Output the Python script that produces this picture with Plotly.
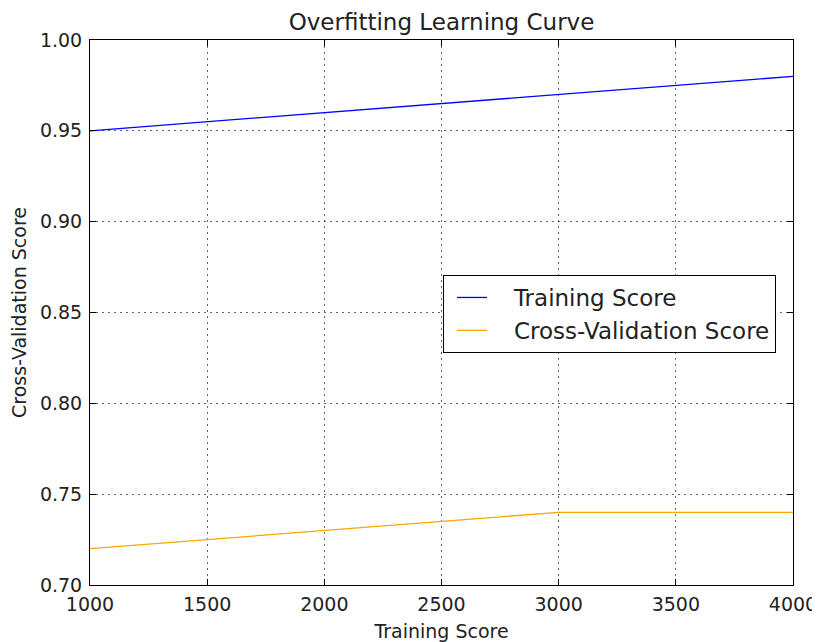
import plotly.graph_objects as go

train_sizes = [1000, 2000, 3000, 4000]
training_score = [0.95, 0.96, 0.97, 0.98]
cv_score = [0.72, 0.73, 0.74, 0.74]

x_ticks = [1000, 1500, 2000, 2500, 3000, 3500, 4000]
y_ticks = [0.70, 0.75, 0.80, 0.85, 0.90, 0.95, 1.00]

FONT = "DejaVu Sans"
# page body has an 8px margin, so the figure is sized to fit the 820x642 window
W, H = 812, 634
PAD = "\u00a0\u00a0\u00a0"

fig = go.Figure()
fig.add_trace(go.Scatter(x=train_sizes, y=training_score, mode="lines",
                         name=PAD + "Training Score", line=dict(color="#0000ff", width=1.3)))
fig.add_trace(go.Scatter(x=train_sizes, y=cv_score, mode="lines",
                         name=PAD + "Cross-Validation Score", line=dict(color="#ffa500", width=1.3)))

axis_common = dict(
    showline=True, linecolor="black", linewidth=1, mirror="ticks",
    ticks="inside", ticklen=6, tickcolor="black", tickwidth=1,
    showgrid=True, gridcolor="rgba(0,0,0,0.6)", griddash="1.5px,4.5px", gridwidth=1,
    zeroline=False, automargin=False,
    tickfont=dict(family=FONT, size=19, color="#222222"),
)

fig.update_layout(
    width=W, height=H,
    paper_bgcolor="white", plot_bgcolor="white",
    margin=dict(l=82, r=27, t=32, b=57),
    title=dict(text="Overfitting Learning Curve", x=(82 + 785) / 2 / W, xanchor="center",
               y=1 - 14 / H, yanchor="middle",
               font=dict(family=FONT, size=23, color="#222222")),
    xaxis=dict(range=[1000, 4000], tickvals=x_ticks,
               ticktext=[str(v) for v in x_ticks],
               title=dict(text="Training Score", font=dict(family=FONT, size=19, color="#222222"), standoff=10),
               ticklabelstandoff=2,
               **axis_common),
    yaxis=dict(range=[0.70, 1.00], tickvals=y_ticks,
               ticktext=[f"{v:.2f}" for v in y_ticks],
               title=dict(text="Cross-Validation Score", font=dict(family=FONT, size=19, color="#222222"), standoff=10),
               ticklabelstandoff=3,
               **axis_common),
    legend=dict(x=(443 - 90) / 703, y=(585 - 275) / 545, xanchor="left", yanchor="top",
                bordercolor="black", borderwidth=1, bgcolor="white",
                font=dict(family=FONT, size=23, color="#222222"),
                itemwidth=30, indentation=8, tracegroupgap=0),
    showlegend=True,
)

fig.write_html("out.html")
